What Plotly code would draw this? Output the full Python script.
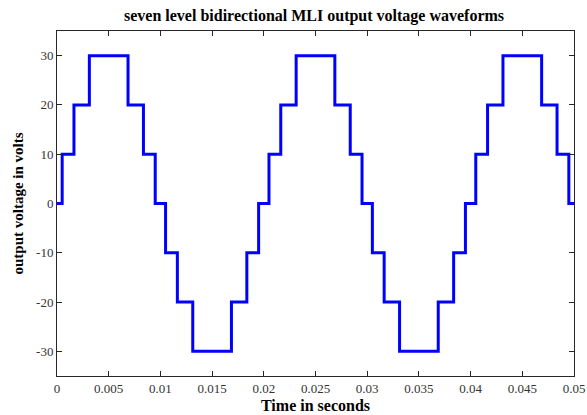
import plotly.graph_objects as go

# Switching instants (s) and the output level held from each instant onward
switch_times = [0, 0.0005, 0.00164, 0.00313, 0.00687, 0.00836, 0.0095,
                0.0105, 0.01164, 0.01313, 0.01687, 0.01836, 0.0195,
                0.0205, 0.02164, 0.02313, 0.02687, 0.02836, 0.0295,
                0.0305, 0.03164, 0.03313, 0.03687, 0.03836, 0.0395,
                0.0405, 0.04164, 0.04313, 0.04687, 0.04836, 0.0495, 0.05]
voltage_levels = [0, 10, 20, 30, 20, 10, 0,
                  -10, -20, -30, -20, -10, 0,
                  10, 20, 30, 20, 10, 0,
                  -10, -20, -30, -20, -10, 0,
                  10, 20, 30, 20, 10, 0, 0]

x_ticks = [0, 0.005, 0.01, 0.015, 0.02, 0.025, 0.03, 0.035, 0.04, 0.045, 0.05]
x_tick_labels = ["0", "0.005", "0.01", "0.015", "0.02", "0.025", "0.03",
                 "0.035", "0.04", "0.045", "0.05"]
y_ticks = [-30, -20, -10, 0, 10, 20, 30]
y_tick_labels = ["-30", "-20", "-10", "0", "10", "20", "30"]

serif = "Liberation Serif, Times New Roman, serif"

fig = go.Figure()
fig.add_trace(go.Scatter(
    x=switch_times, y=voltage_levels, mode="lines",
    line=dict(color="#0000FF", width=3, shape="hv"),
    showlegend=False,
))

axis_common = dict(
    showline=True, linecolor="#262626", linewidth=1, mirror="ticks",
    ticks="inside", ticklen=5, tickcolor="#262626",
    showgrid=False, zeroline=False, automargin=False,
    tickfont=dict(family=serif, size=13, color="#333333"),
)

fig.update_layout(
    width=587, height=415,
    margin=dict(l=57, r=13, t=31, b=39),
    paper_bgcolor="white", plot_bgcolor="white",
    title=dict(text="<b>seven level bidirectional MLI output voltage waveforms</b>",
               x=0.535, xanchor="center", y=0.962, yanchor="middle",
               font=dict(family=serif, size=16, color="black")),
    xaxis=dict(range=[0, 0.05], tickvals=x_ticks, ticktext=x_tick_labels,
               title=dict(text="<b>Time in seconds</b>", standoff=5,
                          font=dict(family=serif, size=16, color="black")),
               **axis_common),
    yaxis=dict(range=[-35, 35], tickvals=y_ticks, ticktext=y_tick_labels,
               title=dict(text="<b>output voltage in volts</b>", standoff=8,
                          font=dict(family=serif, size=15, color="black")),
               **axis_common),
)

fig.write_html("out.html")
